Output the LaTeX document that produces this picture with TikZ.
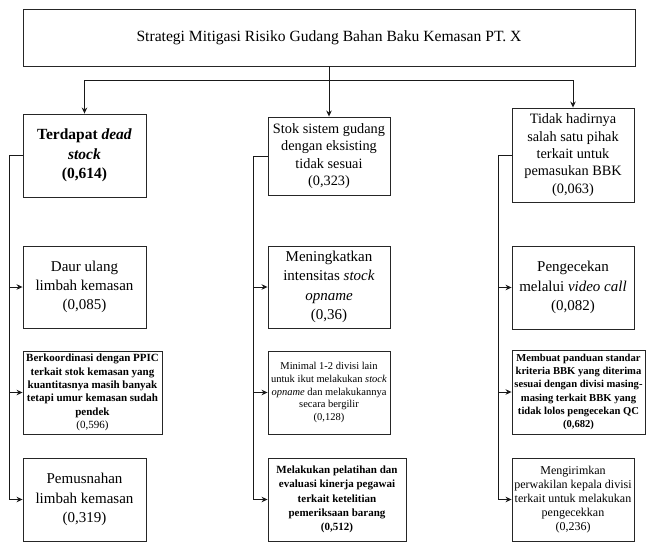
\documentclass[tikz,border=0pt]{standalone}
\usepackage{fontspec}
\setmainfont{Liberation Serif}
\usetikzlibrary{arrows.meta}
\tikzset{
  box/.style={draw=black!85, line width=0.9pt, align=center, inner sep=0pt, anchor=center},
  conn/.style={draw=black!90, line width=1pt},
  arr/.style={conn, -{Stealth[length=6pt,width=5.5pt]}},
  big/.style={font=\fontsize{15}{19.3}\selectfont},
  mid/.style={font=\fontsize{14.3}{17.4}\selectfont},
}
\begin{document}
\begin{tikzpicture}[x=1pt,y=-1pt]
\useasboundingbox (0,0) rectangle (646,542);
% top
\node[box, minimum width=612pt, minimum height=57pt, font=\fontsize{15.6}{18}\selectfont] (top) at (329,37.5) {Strategi Mitigasi Risiko Gudang Bahan Baku Kemasan PT. X};
% level 1
\node[box, font=\fontsize{15.5}{19.5}\selectfont, minimum width=123pt, minimum height=83pt] (L1) at (84.5,155.5) {\textbf{Terdapat \textit{dead}}\\\textbf{\textit{stock}}\\\textbf{(0,614)}};
\node[box, mid, minimum width=122pt, minimum height=78pt] (M1) at (329,156) {Stok sistem gudang\\dengan eksisting\\tidak sesuai\\(0,323)};
\node[box, mid, minimum width=122pt, minimum height=94pt] (R1) at (573,155) {Tidak hadirnya\\salah satu pihak\\terkait untuk\\pemasukan BBK\\(0,063)};
% left column
\node[box, big, minimum width=123pt, minimum height=82pt] (L2) at (84.5,287) {Daur ulang\\limbah kemasan\\(0,085)};
\node[box, font=\fontsize{11}{13.3}\selectfont, minimum width=139pt, minimum height=83pt] (L3) at (92.5,392.5) {\textbf{Berkoordinasi dengan PPIC}\\\textbf{terkait stok kemasan yang}\\\textbf{kuantitasnya masih banyak}\\\textbf{tetapi umur kemasan sudah}\\\textbf{pendek}\\(0,596)};
\node[box, big, minimum width=123pt, minimum height=83pt] (L4) at (84.5,499.5) {Pemusnahan\\limbah kemasan\\(0,319)};
% middle column
\node[box, big, minimum width=122pt, minimum height=82pt] (M2) at (329,287) {Meningkatkan\\intensitas \textit{stock}\\\textit{opname}\\(0,36)};
\node[box, font=\fontsize{10.5}{12.8}\selectfont, minimum width=122pt, minimum height=83pt] (M3) at (329,392.5) {Minimal 1-2 divisi lain\\untuk ikut melakukan \textit{stock}\\\textit{opname} dan melakukannya\\secara bergilir\\(0,128)};
\node[box, font=\fontsize{11}{14.3}\selectfont, minimum width=138pt, minimum height=83pt] (M4) at (337,499.5) {\textbf{Melakukan pelatihan dan}\\\textbf{evaluasi kinerja pegawai}\\\textbf{terkait ketelitian}\\\textbf{pemeriksaan barang}\\\textbf{(0,512)}};
% right column
\node[box, big, minimum width=122pt, minimum height=83pt] (R2) at (573,287.5) {Pengecekan\\melalui \textit{video call}\\(0,082)};
\node[box, font=\fontsize{10.6}{13.2}\selectfont, minimum width=133pt, minimum height=84pt] (R3) at (578.5,392) {\textbf{Membuat panduan standar}\\\textbf{kriteria BBK yang diterima}\\\textbf{sesuai dengan divisi masing-}\\\textbf{masing terkait BBK yang}\\\textbf{tidak lolos pengecekan QC}\\\textbf{(0,682)}};
\node[box, font=\fontsize{12}{14}\selectfont, minimum width=122pt, minimum height=83pt] (R4) at (573,499.5) {Mengirimkan\\perwakilan kepala divisi\\terkait untuk melakukan\\pengecekkan\\(0,236)};
% top connectors
\coordinate (hub) at (329,80);
\draw[conn] (top.south) -- (hub);
\draw[arr] (hub) -| (L1.north);
\draw[arr] (hub) -- (M1.north);
\draw[arr] (hub) -| (R1.north);
% spines
\coordinate (sL) at (9,0);
\coordinate (sM) at (253,0);
\coordinate (sR) at (498,0);
\draw[arr] (L1.west) -| (sL |- L4.west) -- (L4.west);
\draw[arr] (sL |- L2.west) -- (L2.west);
\draw[arr] (sL |- L3.west) -- (L3.west);
\draw[arr] (M1.west) -| (sM |- M4.west) -- (M4.west);
\draw[arr] (sM |- M2.west) -- (M2.west);
\draw[arr] (sM |- M3.west) -- (M3.west);
\draw[arr] (R1.west) -| (sR |- R4.west) -- (R4.west);
\draw[arr] (sR |- R2.west) -- (R2.west);
\draw[arr] (sR |- R3.west) -- (R3.west);
\end{tikzpicture}
\end{document}
